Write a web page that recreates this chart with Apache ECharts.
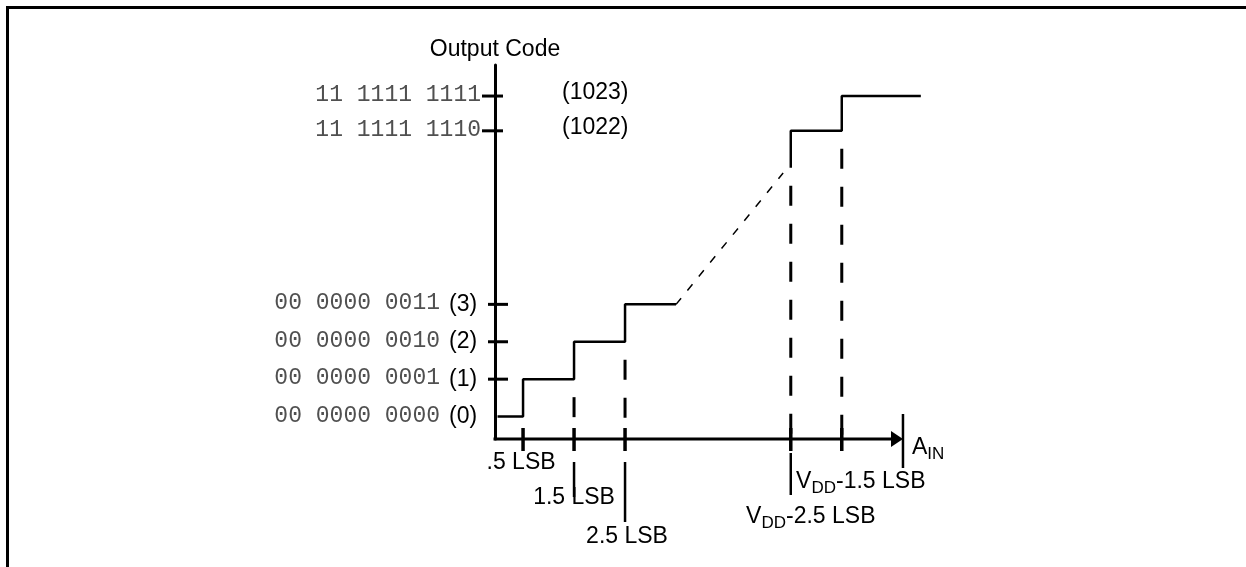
<!DOCTYPE html>
<html>
<head>
    <meta charset="utf-8">
    <script src="https://cdn.jsdelivr.net/npm/echarts@6.0.0/dist/echarts.min.js"></script>
    <style>
        html, body {margin: 0; padding: 0; background: #fff;}
    </style>
</head>
<body>
<div id="main" style="width: 1246px;height:567px;"></div>
<script type="text/javascript">
    // output codes, their binary text and the height each one is drawn at
    // (the code axis is broken between 3 and 1022)
    var codes = [0, 1, 2, 3, 1022, 1023];
    var codeBits = ['00 0000 0000', '00 0000 0001', '00 0000 0010', '00 0000 0011', '11 1111 1110', '11 1111 1111'];
    var codeLevels = [0.6, 1.6, 2.6, 3.6, 8.24, 9.17];

    // input in LSB, VDD sits at 8.25 on the drawn axis
    var vdd = 8.25;
    var lowEdges = [0, 0.5, 1.5, 2.5, 3.5];
    var highEdges = [vdd - 2.5, vdd - 1.5, 8.3];
    var rampStart = [3.5, 3.6];
    var rampEnd = [5.6, 7.11];
    var rampTop = 7.25;
    var axisEnd = 7.95; // where the A_IN arrow points

    var xTickValues = [0.5, 1.5, 2.5, vdd - 2.5, vdd - 1.5];
    var xTickLabels = ['.5 LSB', '1.5 LSB', '2.5 LSB', '{v|V}{s|DD}{v|-2.5 LSB}', '{v|V}{s|DD}{v|-1.5 LSB}'];

    var xMin = -0.05, xMax = 8.48;
    var sans = '"Liberation Sans", Arial, sans-serif';
    var mono = '"Liberation Mono", "Courier New", monospace';

    // step points built from the edges and levels
    var lowSteps = [];
    for (var i = 0; i < 4; i++) {
        lowSteps.push([lowEdges[i], codeLevels[i]]);
        lowSteps.push([lowEdges[i + 1], codeLevels[i]]);
    }
    var highSteps = [
        [highEdges[0], rampTop],
        [highEdges[0], codeLevels[4]],
        [highEdges[1], codeLevels[4]],
        [highEdges[1], codeLevels[5]],
        [highEdges[2], codeLevels[5]]
    ];
    var guides = [
        [xTickValues[1], codeLevels[1]],
        [xTickValues[2], codeLevels[2]],
        [xTickValues[3], rampTop],
        [xTickValues[4], codeLevels[4]]
    ];

    // where each x label goes relative to its tick: dx, dy, leader line
    var xLabelPlace = [
        {dx: -2, dy: 24, lead: null},
        {dx: 0, dy: 59, lead: [23, 58]},
        {dx: 2, dy: 98, lead: [23, 83]},
        {dx: 20, dy: 78, lead: [14, 56]},
        {dx: 19, dy: 43, lead: null}
    ];
    var richSub = {
        v: {fontSize: 23, fontFamily: sans, color: '#000', lineHeight: 30, verticalAlign: 'middle'},
        s: {fontSize: 17, fontFamily: sans, color: '#000', lineHeight: 12, verticalAlign: 'bottom'}
    };

    var myChart = echarts.init(document.getElementById('main'));

    var option = {
        animation: false,
        graphic: [
            {type: 'line', shape: {x1: 6, y1: 7.5, x2: 1246, y2: 7.5}, style: {stroke: '#000', lineWidth: 3}},
            {type: 'line', shape: {x1: 7.5, y1: 6, x2: 7.5, y2: 567}, style: {stroke: '#000', lineWidth: 3}}
        ],
        grid: {left: 495, right: 1246 - 930, top: 65, bottom: 128},
        xAxis: {
            type: 'value', min: xMin, max: xMax,
            axisLine: {show: false},
            axisTick: {show: false}, axisLabel: {show: false}, splitLine: {show: false}
        },
        yAxis: {
            type: 'value', min: 0, max: 10,
            name: 'Output Code', nameLocation: 'end', nameGap: 4,
            nameTextStyle: {fontSize: 23, fontFamily: sans, color: '#000', align: 'center'},
            axisLine: {show: true, onZero: false, lineStyle: {color: '#000', width: 3}},
            axisTick: {show: false}, axisLabel: {show: false}, splitLine: {show: false}
        },
        series: [
            {
                name: 'low', type: 'line', data: lowSteps, symbol: 'none',
                lineStyle: {color: '#000', width: 2.5}
            },
            {
                name: 'high', type: 'line', data: highSteps, symbol: 'none',
                lineStyle: {color: '#000', width: 2.5}
            },
            {
                name: 'ramp', type: 'line', data: [rampStart, rampEnd], symbol: 'none',
                lineStyle: {color: '#000', width: 1.5, type: [8, 10]}
            },
            {
                // dashed guides from each step down to the axis
                name: 'guides', type: 'custom', silent: true, data: guides,
                renderItem: function (params, api) {
                    var a = api.coord([api.value(0), api.value(1)]);
                    var b = api.coord([api.value(0), 0]);
                    return {
                        type: 'line',
                        shape: {x1: a[0], y1: a[1], x2: b[0], y2: b[1] - 4},
                        style: {stroke: '#000', lineWidth: 3, lineDash: [20, 18], lineDashOffset: 20}
                    };
                }
            },
            {
                // input axis line with arrow, end bar and name
                name: 'ain', type: 'custom', silent: true, data: [[axisEnd, 0]],
                renderItem: function (params, api) {
                    var o = api.coord([xMin, 0]);
                    var p = api.coord([api.value(0), api.value(1)]);
                    return {
                        type: 'group',
                        children: [
                            {type: 'line', shape: {x1: o[0] - 1.5, y1: o[1], x2: p[0] - 6, y2: p[1]},
                                style: {stroke: '#000', lineWidth: 3}},
                            {type: 'polygon', shape: {points: [[p[0] - 12, p[1] - 8], [p[0], p[1]], [p[0] - 12, p[1] + 8]]},
                                style: {fill: '#000'}},
                            {type: 'line', shape: {x1: p[0], y1: p[1] - 25, x2: p[0], y2: p[1] + 29},
                                style: {stroke: '#000', lineWidth: 2.5}},
                            {type: 'text', x: p[0] + 9, y: p[1] + 9,
                                style: {text: '{v|A}{s|IN}', rich: richSub, align: 'left', verticalAlign: 'middle'}}
                        ]
                    };
                }
            },
            {
                // output code ticks and labels
                name: 'codes', type: 'custom', silent: true,
                data: codes.map(function (c, i) { return [xMin, codeLevels[i], c]; }),
                renderItem: function (params, api) {
                    var i = params.dataIndex;
                    var p = api.coord([api.value(0), api.value(1)]);
                    var code = api.value(2);
                    var high = code > 3;
                    var kids = [];
                    if (code !== 0) {
                        kids.push({
                            type: 'line',
                            shape: {x1: p[0] + (high ? -13 : -7), y1: p[1], x2: p[0] + (high ? 8 : 13), y2: p[1]},
                            style: {stroke: '#000', lineWidth: 3}
                        });
                    }
                    kids.push({
                        type: 'text', x: p[0] + (high ? -14 : -55), y: p[1] - 1,
                        style: {text: codeBits[i], font: '23px ' + mono, fill: '#505050', align: 'right', verticalAlign: 'middle'}
                    });
                    kids.push({
                        type: 'text', x: p[0] + (high ? 67 : -46), y: p[1] + (high ? -3 : 0),
                        style: {text: '(' + code + ')', font: '23px ' + sans, fill: '#000', align: 'left', verticalAlign: 'middle'}
                    });
                    return {type: 'group', children: kids};
                }
            },
            {
                // input ticks, leaders and labels
                name: 'inputs', type: 'custom', silent: true,
                data: xTickValues.map(function (v) { return [v, 0]; }),
                renderItem: function (params, api) {
                    var i = params.dataIndex;
                    var p = api.coord([api.value(0), api.value(1)]);
                    var pl = xLabelPlace[i];
                    var kids = [{
                        type: 'line',
                        shape: {x1: p[0], y1: p[1] - 11, x2: p[0], y2: p[1] + 12},
                        style: {stroke: '#000', lineWidth: 3.5}
                    }];
                    if (pl.lead) {
                        kids.push({
                            type: 'line',
                            shape: {x1: p[0], y1: p[1] + pl.lead[0], x2: p[0], y2: p[1] + pl.lead[1]},
                            style: {stroke: '#000', lineWidth: 2.5}
                        });
                    }
                    kids.push({
                        type: 'text', x: p[0] + pl.dx, y: p[1] + pl.dy,
                        style: {
                            text: xTickLabels[i].indexOf('{') === 0 ? xTickLabels[i] : '{v|' + xTickLabels[i] + '}',
                            rich: richSub, align: 'center', verticalAlign: 'middle'
                        }
                    });
                    return {type: 'group', children: kids};
                }
            }
        ]
    };

    myChart.setOption(option);
</script>
</body>
</html>
